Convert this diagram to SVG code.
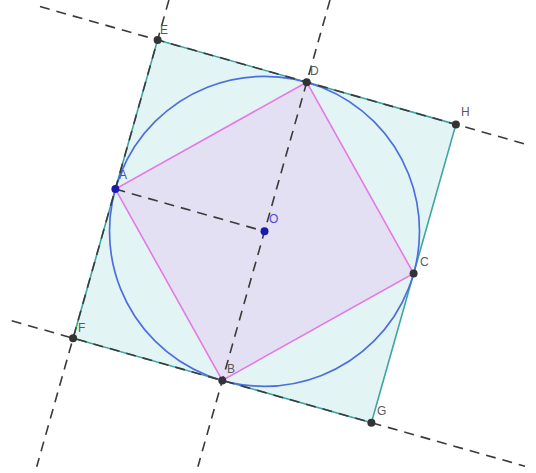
<svg xmlns="http://www.w3.org/2000/svg" width="536" height="473" viewBox="0 0 536 473">
<style>
.outer{fill:#e3f4f4;stroke:#3ea69f;stroke-width:1.6}
.inner{fill:#e4e0f3;stroke:#e479e4;stroke-width:1.6}
.circ{fill:none;stroke:#4c6fe0;stroke-width:1.7}
.dash{fill:none;stroke:#3a3a3a;stroke-width:1.6;stroke-dasharray:10 7}
.pt{fill:#333}
.bpt{fill:#1a1aa8}
.lbl{font-family:"Liberation Sans",Arial,sans-serif;font-size:12px;fill:#5a5a5a}
.blbl{font-family:"Liberation Sans",Arial,sans-serif;font-size:12px;fill:#4a4ad0}
</style>
<rect width="536" height="473" fill="#fff"/>
<g id="shapes">
<polygon id="squareEFGH" class="outer" points="157.6,39.9 455.9,124.4 371.4,422.7 73.1,338.2"/>
<polygon id="squareABCD" class="inner" points="306.7,82.2 115.4,189.1 222.3,380.4 413.6,273.5"/>
<circle id="circle" class="circ" cx="264.5" cy="231.3" r="155"/>
</g>
<g id="connectors">
<line class="dash" x1="40" y1="6.6" x2="525" y2="144"/>
<line class="dash" x1="11.7" y1="320.8" x2="525" y2="466.2"/>
<line class="dash" x1="168.9" y1="0" x2="36.7" y2="466.7"/>
<line class="dash" x1="330" y1="0" x2="197.9" y2="466.7"/>
<line class="dash" x1="115.4" y1="189.1" x2="264.5" y2="231.3"/>
</g>
<g id="E"><circle class="pt" cx="157.6" cy="39.9" r="4"/><text class="lbl" x="160" y="34">E</text></g>
<g id="D"><circle class="pt" cx="306.7" cy="82.2" r="4"/><text class="lbl" x="310" y="75">D</text></g>
<g id="H"><circle class="pt" cx="455.9" cy="124.4" r="4"/><text class="lbl" x="461" y="116">H</text></g>
<g id="A"><circle class="bpt" cx="115.4" cy="189.1" r="4"/><text class="blbl" x="119" y="179">A</text></g>
<g id="O"><circle class="bpt" cx="264.5" cy="231.3" r="4"/><text class="blbl" x="269" y="223">O</text></g>
<g id="C"><circle class="pt" cx="413.6" cy="273.5" r="4"/><text class="lbl" x="420" y="266">C</text></g>
<g id="F"><circle class="pt" cx="73.1" cy="338.2" r="4"/><text class="lbl" x="78" y="332">F</text></g>
<g id="B"><circle class="pt" cx="222.3" cy="380.4" r="4"/><text class="lbl" x="227" y="373">B</text></g>
<g id="G"><circle class="pt" cx="371.4" cy="422.7" r="4"/><text class="lbl" x="377" y="415">G</text></g>
</svg>
